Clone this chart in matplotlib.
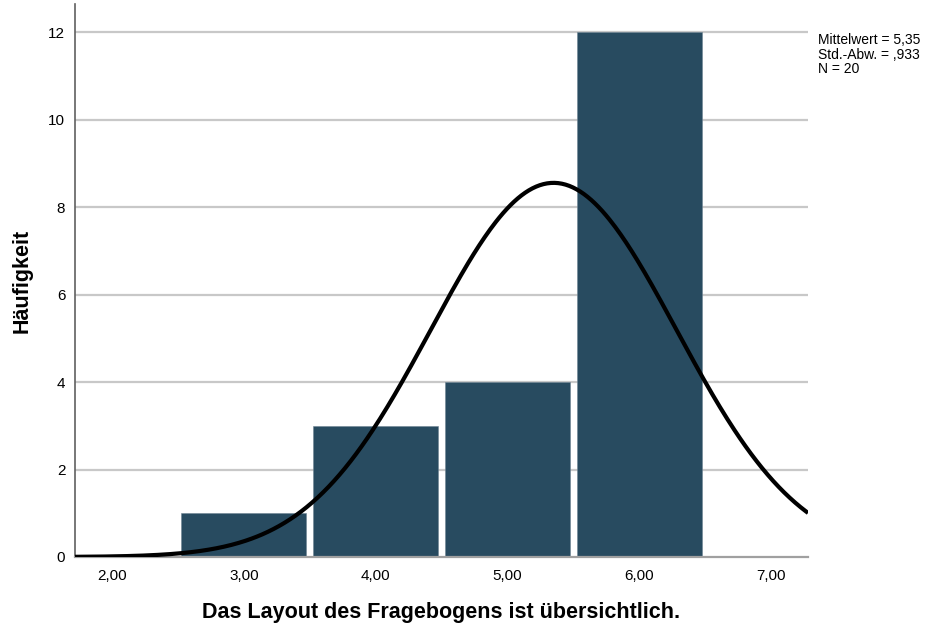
import numpy as np
import matplotlib.pyplot as plt

# Histogram data (SPSS output)
bin_centers = [3.0, 4.0, 5.0, 6.0]
counts = [1, 3, 4, 12]
mean_val = 5.35
sd_val = 0.933
n_val = 20
x_ticks = [2.0, 3.0, 4.0, 5.0, 6.0, 7.0]
x_tick_labels = ["2,00", "3,00", "4,00", "5,00", "6,00", "7,00"]
y_ticks = [0, 2, 4, 6, 8, 10, 12]
stats_text = "Mittelwert = 5,35\nStd.-Abw. = ,933\nN = 20"

plt.rcParams["font.family"] = "Liberation Sans"

fig = plt.figure(figsize=(9.32, 6.25), dpi=100)
ax = fig.add_axes([0.0805, 0.1088, 0.7865, 0.8848])

ax.set_xlim(1.72, 7.28)
ax.set_ylim(0, 12.64)

# grid lines
for y in y_ticks[1:]:
    ax.axhline(y, color="#c8c8c8", lw=1.6, zorder=0)

ax.bar(bin_centers, counts, width=0.947, color="#284b60",
       edgecolor="#6f8594", linewidth=0.4, zorder=2)

# normal curve scaled to counts (bin width 1)
xs = np.linspace(1.72, 7.28, 400)
ys = n_val * 1.0 / (sd_val * np.sqrt(2 * np.pi)) * np.exp(-0.5 * ((xs - mean_val) / sd_val) ** 2)
ax.plot(xs, ys, color="black", lw=3, zorder=3, solid_capstyle="butt")

ax.set_xticks(x_ticks)
ax.set_xticklabels(x_tick_labels)
ax.set_yticks(y_ticks)
ax.tick_params(length=0, labelsize=11, pad=9)
ax.tick_params(axis="y", pad=7)

for side in ["top", "right"]:
    ax.spines[side].set_visible(False)
ax.spines["left"].set_color("#606060")
ax.spines["left"].set_linewidth(1.2)
ax.spines["bottom"].set_color("#a0a0a0")
ax.spines["bottom"].set_linewidth(1.6)

ax.set_xlabel("Das Layout des Fragebogens ist übersichtlich.",
              fontsize=15.5, fontweight="bold", labelpad=13)
ax.set_ylabel("Häufigkeit", fontsize=15.5, fontweight="bold", labelpad=11)

fig.text(818 / 932, 1 - 33 / 625, stats_text, fontsize=10,
         va="top", ha="left", linespacing=1.05)

fig.savefig("out.png", dpi=100)
